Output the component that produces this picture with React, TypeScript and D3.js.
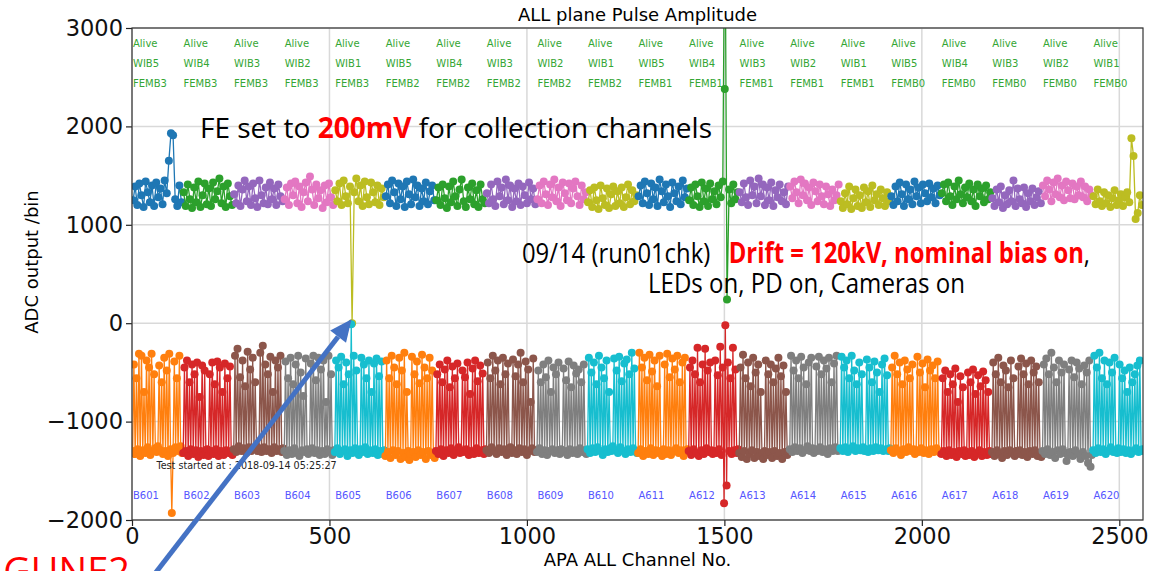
import * as d3 from "d3";
import React, { useRef, useEffect } from "react";

// matplotlib default colour cycle
const tab10 = [
  "#1f77b4", "#ff7f0e", "#2ca02c", "#d62728", "#9467bd",
  "#8c564b", "#e377c2", "#7f7f7f", "#bcbd22", "#17becf",
];

const channelsPerFemb = 128;
const channelMax = 2560;

const wibLabels = [
  "WIB5", "WIB4", "WIB3", "WIB2", "WIB1", "WIB5", "WIB4", "WIB3", "WIB2", "WIB1",
  "WIB5", "WIB4", "WIB3", "WIB2", "WIB1", "WIB5", "WIB4", "WIB3", "WIB2", "WIB1",
];
const fembLabels = [
  "FEMB3", "FEMB3", "FEMB3", "FEMB3", "FEMB3", "FEMB2", "FEMB2", "FEMB2", "FEMB2", "FEMB2",
  "FEMB1", "FEMB1", "FEMB1", "FEMB1", "FEMB1", "FEMB0", "FEMB0", "FEMB0", "FEMB0", "FEMB0",
];
const boardLabels = [
  "B601", "B602", "B603", "B604", "B605", "B606", "B607", "B608", "B609", "B610",
  "A611", "A612", "A613", "A614", "A615", "A616", "A617", "A618", "A619", "A620",
];

const xTicks = [0, 500, 1000, 1500, 2000, 2500];
const yTicks = [-2000, -1000, 0, 1000, 2000, 3000];

// collection channels, one row per FEMB (pulse amplitude, ADC)
const collectionAdc = [
  [1250, 1390, 1200, 1420, 1300, 1180, 1440, 1330, 1230, 1400, 1190, 1430, 1280, 1370, 1210, 1450, 1320, 1650, 1930, 1910, 1260, 1190, 1400, 1230],
  [1330, 1190, 1410, 1260, 1170, 1380, 1230, 1440, 1180, 1300, 1420, 1210, 1370, 1190, 1430, 1260, 1340, 1470, 1220, 1390, 1180, 1420, 1290, 1200],
  [1310, 1220, 1400, 1190, 1360, 1450, 1240, 1390, 1200, 1420, 1270, 1180, 1450, 1300, 1220, 1380, 1210, 1430, 1260, 1370, 1200, 1410, 1290, 1240],
  [1260, 1380, 1200, 1420, 1300, 1440, 1220, 1390, 1180, 1330, 1430, 1240, 1490, 1360, 1200, 1410, 1270, 1350, 1170, 1400, 1230, 1420, 1280, 1200],
  [1350, 1240, 1420, 1200, 1450, 1290, 1220, 1390, 0, 1330, 1470, 1240, 1400, 1190, 1440, 1280, 1210, 1430, 1330, 1230, 1400, 1200, 1370, 1280],
  [1290, 1410, 1220, 1450, 1330, 1190, 1420, 1260, 1390, 1180, 1440, 1310, 1210, 1460, 1280, 1400, 1190, 1370, 1240, 1430, 1210, 1340, 1400, 1250],
  [1250, 1380, 1200, 1410, 1270, 1170, 1390, 1230, 1440, 1290, 1190, 1360, 1460, 1240, 1180, 1380, 1260, 1420, 1210, 1350, 1180, 1410, 1260, 1220],
  [1320, 1220, 1410, 1260, 1190, 1440, 1290, 1380, 1210, 1460, 1250, 1400, 1180, 1370, 1240, 1420, 1200, 1390, 1300, 1220, 1430, 1260, 1370, 1210],
  [1260, 1400, 1220, 1440, 1310, 1200, 1410, 1280, 1460, 1240, 1380, 1190, 1430, 1320, 1250, 1420, 1220, 1370, 1440, 1290, 1200, 1400, 1260, 1330],
  [1230, 1350, 1180, 1380, 1250, 1160, 1400, 1270, 1200, 1370, 1170, 1310, 1390, 1190, 1340, 1220, 1380, 1180, 1280, 1410, 1210, 1350, 1240, 1300],
  [1290, 1400, 1220, 1440, 1320, 1200, 1420, 1260, 1380, 1190, 1460, 1340, 1230, 1410, 1290, 1180, 1430, 1320, 1240, 1390, 1210, 1450, 1280, 1370],
  [1250, 1380, 1200, 1410, 1290, 1180, 1430, 1240, 1370, 1190, 1420, 1260, 1340, 1210, 1400, 1280, 1440, 4500, 240, 1360, 1220, 1410, 1260, 1330],
  [1330, 1230, 1420, 1280, 1200, 1450, 1300, 1390, 1220, 1470, 1290, 1410, 1200, 1380, 1250, 1430, 1190, 1350, 1280, 1410, 1240, 1330, 1210, 1390],
  [1390, 1270, 1440, 1330, 1220, 1460, 1300, 1420, 1250, 1380, 1200, 1430, 1340, 1240, 1410, 1290, 1210, 1390, 1310, 1190, 1360, 1250, 1300, 1410],
  [1240, 1170, 1320, 1210, 1390, 1160, 1270, 1360, 1190, 1300, 1170, 1380, 1230, 1340, 1180, 1400, 1250, 1310, 1200, 1360, 1270, 1190, 1330, 1240],
  [1290, 1200, 1390, 1240, 1430, 1310, 1190, 1410, 1260, 1360, 1210, 1440, 1290, 1380, 1220, 1410, 1320, 1240, 1420, 1280, 1370, 1220, 1400, 1300],
  [1320, 1410, 1240, 1430, 1290, 1200, 1390, 1260, 1450, 1310, 1220, 1380, 1280, 1420, 1240, 1360, 1190, 1410, 1290, 1370, 1230, 1400, 1260, 1330],
  [1270, 1190, 1360, 1230, 1390, 1170, 1300, 1210, 1350, 1240, 1450, 1190, 1370, 1260, 1220, 1380, 1180, 1320, 1240, 1370, 1200, 1280, 1340, 1220],
  [1400, 1290, 1450, 1360, 1240, 1430, 1310, 1470, 1280, 1400, 1250, 1440, 1350, 1270, 1420, 1260, 1390, 1300, 1440, 1280, 1390, 1240, 1360, 1300],
  [1290, 1210, 1360, 1240, 1190, 1330, 1220, 1300, 1180, 1270, 1350, 1200, 1250, 1310, 1190, 1280, 1330, 1230, 1880, 1700, 1060, 1120, 1300, 1200],
];

// a few extra readings on the 1500 spike (channel, ADC)
const spikeChannels = [1501];
const spikeAdc = [2380];

// induction channels, one row per FEMB (pulse amplitude, ADC)
const inductionAdc = [
  [-1300, -420, -1330, -560, -1280, -310, -1350, -330, -1290, -700, -1320, -380, -1260, -450, -1340, -310, -1300, -520,
   -1270, -1310, -1250,
   -430, -1290, -600, -1330, -350, -1300, -480, -1350, -310, -1280, -1930, -1320, -390, -1260, -560, -1300, -330,
   -1250, -1320],
  [-1320, -450, -1300, -380, -1350, -600, -1280, -420, -1330, -520, -1290, -400, -1360, -750, -1300, -430, -1340, -480,
   -1310, -1280, -1350,
   -520, -1300, -400, -1330, -620, -1280, -390, -1350, -450, -1300, -700, -1340, -410, -1290, -560, -1320, -440,
   -1300, -1340],
  [-1280, -330, -1310, -260, -1250, -550, -1300, -380, -1270, -640, -1320, -290, -1260, -470, -1300, -350, -1280, -600,
   -1250, -1300, -1270,
   -300, -1310, -230, -1260, -420, -1300, -520, -1280, -340, -1320, -700, -1260, -380, -1300, -450, -1280, -330,
   -1310, -1270],
  [-1300, -390, -1340, -560, -1290, -350, -1330, -620, -1270, -420, -1320, -330, -1350, -500, -1290, -740, -1310, -360,
   -1280, -1330, -1300,
   -410, -1270, -330, -1320, -580, -1290, -350, -1340, -470, -1300, -380, -1330, -800, -1280, -330, -1310, -520,
   -1340, -1290],
  [-1310, -380, -1270, -450, -1330, -340, -1300, -620, -1280, -400, -1350, -520, -1290, -10, -1320, -330, -1270, -480,
   -1300, -1340, -1280,
   -350, -1310, -420, -1260, -560, -1330, -380, -1290, -700, -1320, -410, -1280, -360, -1340, -540, -1300, -390,
   -1330, -1290],
  [-1350, -380, -1310, -560, -1370, -330, -1290, -450, -1340, -620, -1300, -350, -1380, -480, -1320, -300, -1360, -700,
   -1300, -1390, -1330,
   -340, -1310, -520, -1360, -390, -1290, -610, -1340, -320, -1310, -450, -1380, -560, -1300, -350, -1340, -480,
   -1320, -1370],
  [-1300, -520, -1330, -420, -1280, -600, -1350, -470, -1290, -380, -1320, -650, -1270, -440, -1340, -560, -1300, -410,
   -1260, -1320, -1290,
   -480, -1310, -550, -1280, -400, -1340, -720, -1300, -460, -1330, -380, -1270, -590, -1320, -430, -1290, -510,
   -1330, -1280],
  [-1290, -400, -1320, -560, -1260, -330, -1300, -480, -1330, -380, -1270, -620, -1310, -350, -1280, -520, -1340, -410,
   -1300, -1260, -1320,
   -370, -1290, -540, -1330, -420, -1270, -300, -1310, -600, -1280, -390, -1340, -470, -1300, -800, -1270, -360,
   -1310, -1290],
  [-1310, -480, -1270, -600, -1330, -420, -1290, -550, -1340, -380, -1300, -700, -1280, -450, -1320, -520, -1290, -400,
   -1330, -1280, -1310,
   -460, -1300, -580, -1340, -390, -1280, -650, -1320, -430, -1290, -510, -1330, -470, -1270, -600, -1310, -420,
   -1290, -1330],
  [-1280, -350, -1320, -500, -1270, -400, -1310, -620, -1260, -330, -1300, -450, -1340, -560, -1280, -380, -1310, -700,
   -1270, -1300, -1250,
   -360, -1290, -480, -1320, -340, -1260, -590, -1300, -410, -1330, -370, -1280, -520, -1310, -300, -1270, -460,
   -1300, -1320],
  [-1320, -300, -1280, -450, -1350, -350, -1300, -580, -1330, -320, -1270, -490, -1340, -380, -1290, -640, -1320, -330,
   -1300, -1350, -1280,
   -420, -1330, -310, -1290, -550, -1340, -360, -1300, -470, -1270, -330, -1320, -600, -1290, -400, -1350, -350,
   -1310, -1280],
  [-1300, -450, -1340, -380, -1280, -520, -1320, -250, -1350, -600, -1290, -420, -1330, -260, -1270, -480, -1310, -400,
   -1290, -1330, -1300,
   -380, -1320, -530, -1280, -240, -1340, -450, -1830, -20, -1650, -400, -1300, -560, -1330, -250, -1290, -470,
   -1320, -1280],
  [-1320, -450, -1360, -320, -1300, -560, -1380, -400, -1330, -640, -1290, -350, -1370, -500, -1310, -420, -1350, -700,
   -1320, -1380, -1300,
   -380, -1340, -520, -1310, -420, -1370, -600, -1300, -460, -1350, -350, -1320, -540, -1380, -430, -1310, -700,
   -1340, -1300],
  [-1280, -330, -1310, -480, -1260, -380, -1300, -560, -1270, -340, -1320, -450, -1290, -620, -1250, -400, -1300, -350,
   -1270, -1320, -1280,
   -440, -1300, -340, -1260, -520, -1310, -380, -1280, -460, -1330, -350, -1270, -600, -1300, -410, -1260, -330,
   -1300, -1280],
  [-1270, -340, -1300, -450, -1260, -380, -1310, -560, -1280, -330, -1250, -480, -1300, -620, -1270, -400, -1290, -520,
   -1260, -1300, -1280,
   -370, -1310, -450, -1270, -600, -1300, -390, -1260, -500, -1290, -700, -1270, -420, -1300, -360, -1280, -530,
   -1300, -1270],
  [-1290, -450, -1320, -330, -1270, -520, -1300, -400, -1340, -620, -1280, -380, -1310, -470, -1260, -560, -1300, -420,
   -1280, -1330, -1290,
   -340, -1310, -500, -1270, -410, -1320, -650, -1290, -370, -1330, -480, -1280, -430, -1310, -560, -1270, -390,
   -1300, -1320],
  [-1330, -560, -1300, -480, -1350, -700, -1290, -520, -1340, -620, -1310, -460, -1360, -800, -1300, -540, -1330, -650,
   -1290, -1350, -1310,
   -500, -1340, -600, -1300, -470, -1360, -720, -1320, -530, -1290, -640, -1350, -490, -1310, -580, -1340, -700,
   -1300, -1330],
  [-1310, -400, -1350, -520, -1290, -350, -1330, -600, -1370, -430, -1300, -480, -1340, -650, -1290, -380, -1320, -560,
   -1350, -1300, -1330,
   -440, -1290, -360, -1340, -520, -1310, -410, -1360, -620, -1300, -380, -1330, -500, -1290, -440, -1350, -600,
   -1320, -1360],
  [-1300, -420, -1330, -360, -1280, -520, -1340, -300, -1310, -450, -1370, -600, -1290, -380, -1330, -500, -1280, -420,
   -1320, -1400, -1340,
   -470, -1310, -380, -1350, -550, -1290, -400, -1330, -460, -1380, -620, -1310, -430, -1350, -500, -1420, -380,
   -1460, -1340],
  [-1290, -330, -1320, -450, -1270, -300, -1310, -560, -1280, -380, -1330, -620, -1300, -400, -1260, -500, -1310, -350,
   -1290, -1320, -1270,
   -420, -1310, -560, -1280, -480, -1320, -700, -1290, -450, -1330, -600, -1300, -520, -1270, -430, -1310, -380,
   -1300, -1280],
];

const mplFont = "'DejaVu Sans', sans-serif";
const slideFont = "'Open Sans', 'Noto Sans', sans-serif";

const drawChart = (node) => {
  const width = 1170;
  const height = 571;
  const margin = { top: 28, right: 27, bottom: 51, left: 132 };
  const innerW = width - margin.left - margin.right;
  const innerH = height - margin.top - margin.bottom;
  const markerR = 4;

  d3.select(node).selectAll("*").remove();

  const svg = d3
    .select(node)
    .append("svg")
    .attr("width", width)
    .attr("height", height)
    .style("display", "block")
    .style("background", "#fff");

  const x = d3.scaleLinear().domain([0, channelMax]).range([0, innerW]);
  const y = d3.scaleLinear().domain([-2000, 3000]).range([innerH, 0]);

  svg
    .append("defs")
    .append("clipPath")
    .attr("id", "plot-clip")
    .append("rect")
    .attr("width", innerW)
    .attr("height", innerH);

  const g = svg
    .append("g")
    .attr("transform", "translate(" + margin.left + "," + margin.top + ")");

  // grid
  const grid = g.append("g").attr("stroke", "#d9d9d9").attr("stroke-width", 1.5);
  xTicks.forEach((t) => {
    grid.append("line").attr("x1", x(t)).attr("x2", x(t)).attr("y1", 0).attr("y2", innerH);
  });
  yTicks.forEach((t) => {
    grid.append("line").attr("x1", 0).attr("x2", innerW).attr("y1", y(t)).attr("y2", y(t));
  });

  // series: collection then induction for every FEMB, colours follow the cycle
  const series = [];
  collectionAdc.forEach((vals, k) => {
    series.push({ values: vals, femb: k, color: tab10[(2 * k) % 10] });
    series.push({ values: inductionAdc[k], femb: k, color: tab10[(2 * k + 1) % 10] });
  });

  const line = d3
    .line()
    .x((d) => x(d.ch))
    .y((d) => y(d.v));

  const plot = g.append("g").attr("clip-path", "url(#plot-clip)");
  series.forEach((s) => {
    const pts = s.values.map((v, i) => ({
      ch: s.femb * channelsPerFemb + ((i + 0.5) * channelsPerFemb) / s.values.length,
      v,
    }));
    const sg = plot.append("g");
    sg.append("path")
      .datum(pts)
      .attr("d", line)
      .style("fill", "none")
      .style("stroke", s.color)
      .style("stroke-width", "1.3px");
    sg.selectAll("circle")
      .data(pts)
      .enter()
      .append("circle")
      .attr("cx", (d) => x(d.ch))
      .attr("cy", (d) => y(d.v))
      .attr("r", markerR)
      .style("fill", s.color);
  });

  plot
    .selectAll(".spike")
    .data(spikeChannels)
    .enter()
    .append("circle")
    .attr("cx", (d) => x(d))
    .attr("cy", (d, i) => y(spikeAdc[i]))
    .attr("r", markerR)
    .style("fill", tab10[2]);

  // FEMB annotations
  const labels = g.append("g").style("font-family", mplFont).style("font-size", "10px");
  wibLabels.forEach((w, k) => {
    const lx = x(k * channelsPerFemb) + 1;
    const tg = labels.append("text").attr("x", lx).style("fill", "#34a634");
    tg.append("tspan").attr("x", lx).attr("y", 19).text("Alive");
    tg.append("tspan").attr("x", lx).attr("y", 39).text(w);
    tg.append("tspan").attr("x", lx).attr("y", 59).text(fembLabels[k]);
    labels
      .append("text")
      .attr("x", lx)
      .attr("y", 471)
      .style("fill", "#5555ff")
      .text(boardLabels[k]);
  });

  g.append("text")
    .attr("x", x(62))
    .attr("y", 441)
    .style("font-family", mplFont)
    .style("font-size", "9.6px")
    .style("fill", "#222")
    .text("Test started at : 2018-09-14 05:25:27");

  // axes
  const fmt = (d) => (d < 0 ? "\u2212" + Math.abs(d) : String(d));
  const xAxis = g
    .append("g")
    .attr("transform", "translate(0," + innerH + ")")
    .call(d3.axisBottom(x).tickValues(xTicks).tickFormat(fmt).tickSize(6).tickSizeOuter(0).tickPadding(2));
  const yAxis = g
    .append("g")
    .call(d3.axisLeft(y).tickValues(yTicks).tickFormat(fmt).tickSize(6).tickSizeOuter(0).tickPadding(3));
  [xAxis, yAxis].forEach((a) => {
    a.select(".domain").remove();
    a.selectAll("line").attr("stroke", "#222").attr("stroke-width", 1.2);
    a.selectAll("text")
      .style("font-family", mplFont)
      .style("font-size", "22.5px")
      .style("fill", "#111");
  });

  g.append("rect")
    .attr("width", innerW)
    .attr("height", innerH)
    .style("fill", "none")
    .style("stroke", "#333")
    .style("stroke-width", "1.2px");

  svg
    .append("text")
    .attr("x", margin.left + innerW / 2)
    .attr("y", 21)
    .attr("text-anchor", "middle")
    .style("font-family", mplFont)
    .style("font-size", "18px")
    .text("ALL plane Pulse Amplitude");

  svg
    .append("text")
    .attr("x", margin.left + innerW / 2)
    .attr("y", 566)
    .attr("text-anchor", "middle")
    .style("font-family", mplFont)
    .style("font-size", "18px")
    .text("APA ALL Channel No.");

  svg
    .append("text")
    .attr("transform", "translate(38,262) rotate(-90)")
    .attr("text-anchor", "middle")
    .style("font-family", mplFont)
    .style("font-size", "18px")
    .text("ADC output /bin");

  // slide overlay
  const t1 = svg
    .append("text")
    .attr("x", 200)
    .attr("y", 138)
    .attr("textLength", 512)
    .attr("lengthAdjust", "spacingAndGlyphs")
    .style("font-family", slideFont)
    .style("font-size", "28px");
  t1.append("tspan").text("FE set to ");
  t1.append("tspan").style("fill", "#ff0000").style("font-weight", "bold").text("200mV");
  t1.append("tspan").text(" for collection channels");

  const t2 = svg
    .append("text")
    .attr("x", 522)
    .attr("y", 263)
    .attr("textLength", 568)
    .attr("lengthAdjust", "spacingAndGlyphs")
    .style("font-family", slideFont)
    .style("font-size", "28px");
  t2.append("tspan").text("09/14 (run01chk)\u00a0\u00a0\u00a0");
  t2.append("tspan")
    .style("fill", "#ff0000")
    .style("font-weight", "bold")
    .text("Drift = 120kV, nominal bias on");
  t2.append("tspan").text(",");

  svg
    .append("text")
    .attr("x", 648)
    .attr("y", 293)
    .attr("textLength", 317)
    .attr("lengthAdjust", "spacingAndGlyphs")
    .style("font-family", slideFont)
    .style("font-size", "28px")
    .text("LEDs on, PD on, Cameras on");

  svg
    .append("text")
    .attr("x", 130)
    .attr("y", 585)
    .attr("text-anchor", "end")
    .style("font-family", slideFont)
    .style("font-size", "38px")
    .style("fill", "#ff0000")
    .text("GUNE2");

  // arrow to the dead channel
  const tipX = margin.left + x(556);
  const tipY = margin.top + y(40);
  const baseX = 150;
  const baseY = 580;
  const ang = Math.atan2(tipY - baseY, tipX - baseX);
  const headLen = 22;
  const headW = 10;
  const hx = tipX - headLen * Math.cos(ang);
  const hy = tipY - headLen * Math.sin(ang);
  svg
    .append("line")
    .attr("x1", baseX)
    .attr("y1", baseY)
    .attr("x2", hx)
    .attr("y2", hy)
    .style("stroke", "#4472c4")
    .style("stroke-width", "5px");
  svg
    .append("path")
    .attr(
      "d",
      "M" + tipX + "," + tipY +
        "L" + (hx + headW * Math.sin(ang)) + "," + (hy - headW * Math.cos(ang)) +
        "L" + (hx - headW * Math.sin(ang)) + "," + (hy + headW * Math.cos(ang)) + "Z"
    )
    .style("fill", "#4472c4");
};

const App = () => {
  const myRef = useRef(null);

  useEffect(() => {
    drawChart(myRef.current);
  }, []);

  return (
    <div
      ref={myRef}
      style={{ position: "absolute", left: 0, top: 0, width: 1170, height: 571, overflow: "hidden" }}
    ></div>
  );
};

export default App;
